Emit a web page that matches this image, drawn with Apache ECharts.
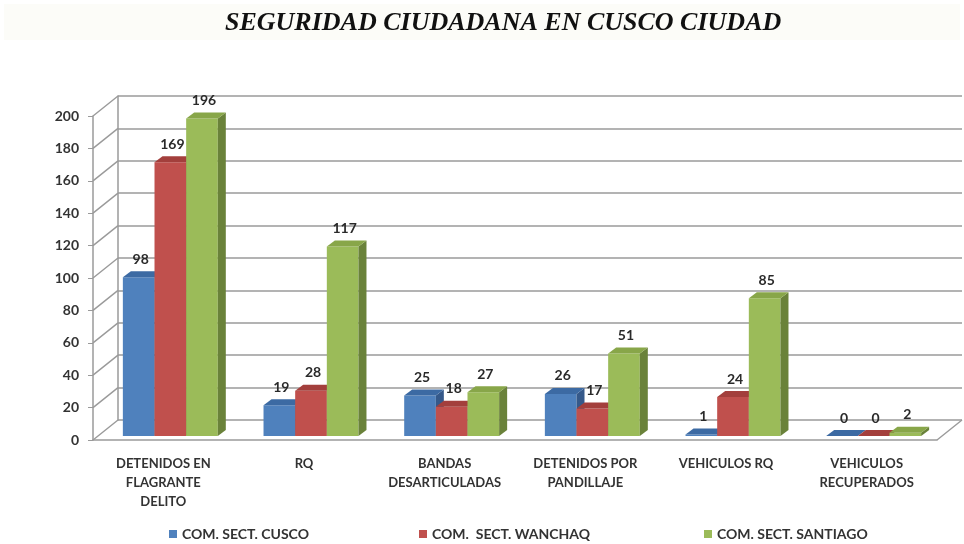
<!DOCTYPE html>
<html>
<head>
<meta charset="utf-8">
<script src="https://cdn.jsdelivr.net/npm/echarts@6/dist/echarts.min.js"></script>
<style>
  html, body { margin: 0; padding: 0; background: #fff; }
  #chart { width: 964px; height: 544px; }
</style>
</head>
<body>
<div id="chart"></div>
<script>
const categories = [
  'DETENIDOS EN\nFLAGRANTE\nDELITO',
  'RQ',
  'BANDAS\nDESARTICULADAS',
  'DETENIDOS POR\nPANDILLAJE',
  'VEHICULOS RQ',
  'VEHICULOS\nRECUPERADOS'
]
const seriesNames = ['COM. SECT. CUSCO', 'COM.  SECT. WANCHAQ', 'COM. SECT. SANTIAGO']
const cusco = [98, 19, 25, 26, 1, 0]
const wanchaq = [169, 28, 18, 17, 24, 0]
const santiago = [196, 117, 27, 51, 85, 2]
const yTicks = [0, 20, 40, 60, 80, 100, 120, 140, 160, 180, 200]

// front, top, side colours per series
const palette = [
  ['#4F81BD', '#3C6AA3', '#35598A'],
  ['#C0504D', '#A33F3C', '#8A3532'],
  ['#9BBB59', '#88A649', '#6A823A']
]

// fake 3d: wall depth and bar offset (px)
const WALL_DX = 25, WALL_DY = -20
const DX = 8, DY = -6, SHIFT_X = 7, SHIFT_Y = -4
const axisGrey = '#9a9a9a'
const font = 'Lato, "Open Sans", sans-serif'

const barRenderer = (si) => (params, api) => {
  const cat = api.value(0), v = api.value(1)
  const base = api.coord([cat, 0])
  const tip = api.coord([cat, v])
  const band = api.size([1, 0])[0]
  const groupW = band * 0.675
  const w = groupW / 3
  const x0 = base[0] - groupW / 2 + si * w + SHIFT_X
  const yb = base[1] + SHIFT_Y, yt = tip[1] + SHIFT_Y
  const [front, top, side] = palette[si]
  return {
    type: 'group',
    children: [
      { type: 'rect', shape: { x: x0, y: yt, width: w, height: yb - yt }, style: { fill: front } },
      { type: 'polygon', shape: { points: [[x0 + w, yt], [x0 + w + DX, yt + DY], [x0 + w + DX, yb + DY], [x0 + w, yb]] }, style: { fill: side } },
      { type: 'polygon', shape: { points: [[x0, yt], [x0 + DX, yt + DY], [x0 + w + DX, yt + DY], [x0 + w, yt]] }, style: { fill: top } },
      { type: 'text', style: { text: String(v), x: x0 + w / 2 + 2, y: yt - 18, align: 'center', verticalAlign: 'middle', fill: '#2a2a2a', font: 'bold 14px ' + font } }
    ]
  }
}

const wallRenderer = (params, api) => {
  const v = api.value(1)
  const p = api.coord([0, v])
  const band = api.size([1, 0])[0]
  const left = p[0] - band / 2
  const children = [
    { type: 'line', shape: { x1: left, y1: p[1], x2: left + WALL_DX, y2: p[1] + WALL_DY }, style: { stroke: axisGrey, lineWidth: 1.5 } }
  ]
  if (v === 0) {
    const q = api.coord([categories.length - 1, 0])
    const right = q[0] + band / 2
    children.push({ type: 'line', shape: { x1: right, y1: q[1], x2: right + WALL_DX, y2: q[1] + WALL_DY }, style: { stroke: axisGrey, lineWidth: 1.5 } })
  }
  return { type: 'group', children }
}

const chart = echarts.init(document.getElementById('chart'))

chart.setOption({
  animation: false,
  title: {
    text: 'SEGURIDAD CIUDADANA EN CUSCO CIUDAD',
    left: 220,
    top: 5,
    textStyle: { fontFamily: '"Liberation Serif", "DejaVu Serif", serif', fontStyle: 'italic', fontWeight: 'bold', fontSize: 26, color: '#111' }
  },
  graphic: [
    { type: 'rect', z: -10, shape: { x: 4, y: 4, width: 956, height: 36 }, style: { fill: '#fcfcf8' } }
  ],
  legend: seriesNames.map((n, i) => ({
    data: [n],
    left: [164, 414, 699][i],
    top: 522,
    icon: 'rect',
    itemWidth: 8,
    itemHeight: 8,
    itemGap: 5,
    textStyle: { fontFamily: font, fontSize: 14, fontWeight: 'bold', color: '#333' }
  })),
  grid: [
    { left: 93, right: 27, top: 116, bottom: 104 },
    { left: 93 + WALL_DX, right: 27 - WALL_DX, top: 116 + WALL_DY, bottom: 104 - WALL_DY }
  ],
  xAxis: [
    {
      type: 'category',
      gridIndex: 0,
      data: categories,
      axisLine: { lineStyle: { color: axisGrey, width: 1.5 } },
      axisTick: { length: 5, lineStyle: { color: axisGrey } },
      axisLabel: { interval: 0, margin: 14, lineHeight: 19, fontFamily: font, fontSize: 13, fontWeight: 'bold', color: '#333' }
    },
    { type: 'category', gridIndex: 1, data: categories, show: false }
  ],
  yAxis: [
    {
      type: 'value',
      gridIndex: 0,
      min: 0, max: 200, interval: 20,
      axisLine: { show: true, lineStyle: { color: axisGrey, width: 1.5 } },
      axisTick: { show: true, length: 5, lineStyle: { color: axisGrey } },
      axisLabel: { margin: 14, fontFamily: font, fontSize: 14, fontWeight: 'bold', color: '#333' },
      splitLine: { show: false }
    },
    {
      type: 'value',
      gridIndex: 1,
      min: 0, max: 200, interval: 20,
      axisLine: { show: true, lineStyle: { color: axisGrey, width: 1.5 } },
      axisTick: { show: false },
      axisLabel: { show: false },
      splitLine: { lineStyle: { color: axisGrey, width: 1.5 } }
    }
  ],
  series: [
    {
      type: 'custom',
      name: 'wall',
      xAxisIndex: 0, yAxisIndex: 0,
      clip: false,
      silent: true,
      renderItem: wallRenderer,
      data: yTicks.map(t => [0, t])
    },
    ...[cusco, wanchaq, santiago].map((vals, si) => ({
      type: 'custom',
      name: seriesNames[si],
      xAxisIndex: 0, yAxisIndex: 0,
      clip: false,
      itemStyle: { color: palette[si][0] },
      renderItem: barRenderer(si),
      data: vals.map((v, i) => [i, v])
    }))
  ]
})
</script>
</body>
</html>
